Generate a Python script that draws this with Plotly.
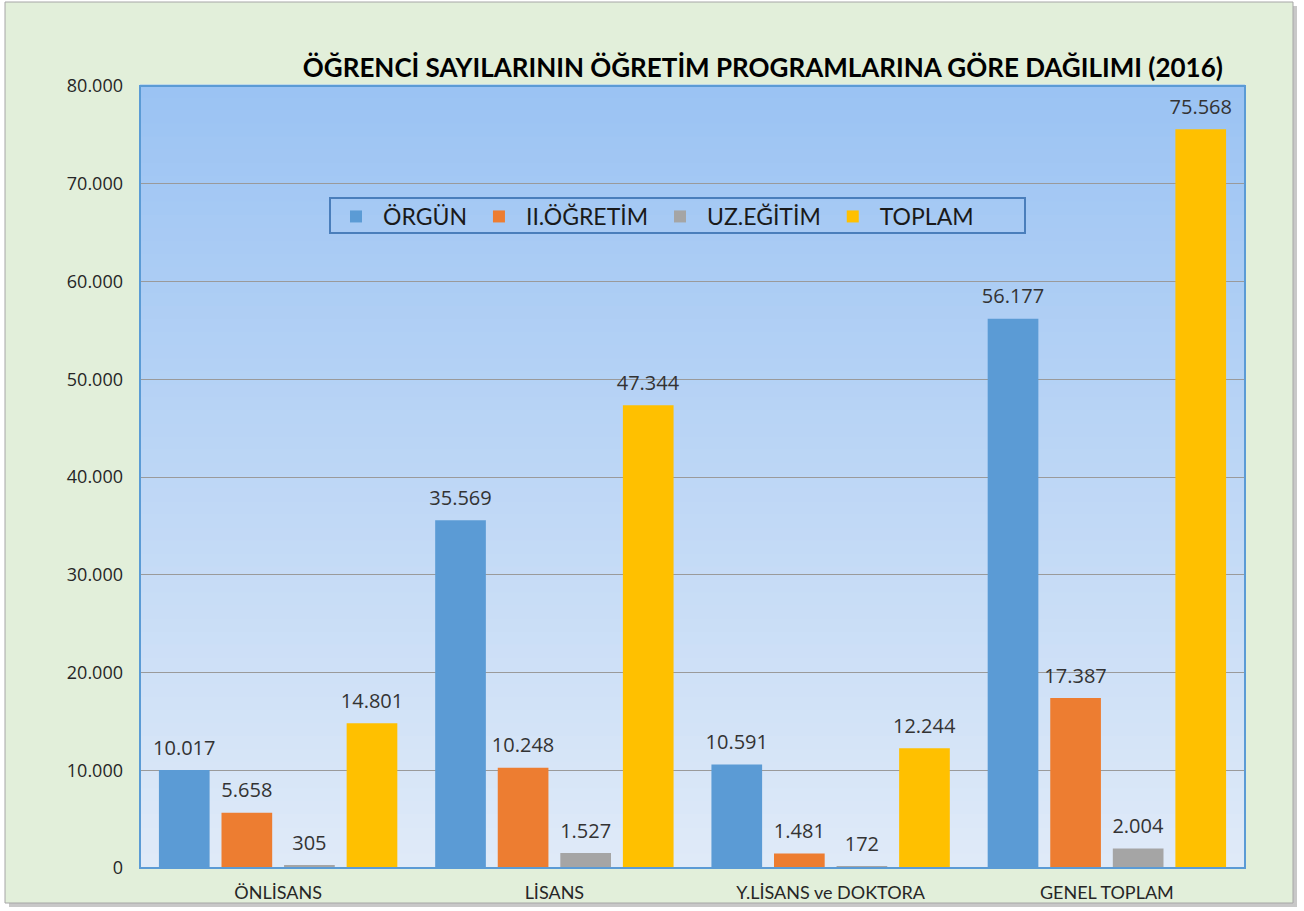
import plotly.graph_objects as go

# --- dati ---
categories = ["ÖNLİSANS", "LİSANS", "Y.LİSANS ve DOKTORA", "GENEL TOPLAM"]
series_names = ["ÖRGÜN", "II.ÖĞRETİM", "UZ.EĞİTİM", "TOPLAM"]
orgun = [10017, 35569, 10591, 56177]
ikinci_ogretim = [5658, 10248, 1481, 17387]
uzaktan = [305, 1527, 172, 2004]
toplam = [14801, 47344, 12244, 75568]
y_ticks = [0, 10000, 20000, 30000, 40000, 50000, 60000, 70000, 80000]

colors = ["#5b9bd5", "#ed7d31", "#a5a5a5", "#ffc000"]
values = [orgun, ikinci_ogretim, uzaktan, toplam]

W, H = 1304, 911
L, R, T, B = 140, 59, 86, 43
pw, ph = W - L - R, H - T - B

fig = go.Figure()
for name, vals, col in zip(series_names, values, colors):
    fig.add_trace(go.Bar(
        x=categories, y=vals, name=name,
        marker=dict(color=col, line=dict(width=0)),
        # etichetta grande + riga vuota piccola per staccarla dalla barra
        texttemplate="<span style='font-size:20px'>%{y:,.0f}</span><br><span> </span>",
        textposition="outside", constraintext="none", cliponaxis=False,
        textfont=dict(family="Open Sans", size=8, color="#333333"),
    ))


def mix(c1, c2, t):
    return "#%02x%02x%02x" % tuple(round(a + (b - a) * t) for a, b in zip(c1, c2))


def px_x(x):
    return (x - L) / pw


def px_y(y):
    return (H - B - y) / ph


# sfondo area grafico a gradiente (strisce)
shapes = []
top_c, bot_c = (155, 195, 243), (223, 234, 248)
n = 60
for i in range(n):
    shapes.append(dict(
        type="rect", xref="x domain", yref="y domain",
        x0=0, x1=1, y0=1 - (i + 1) / n, y1=1 - i / n + 0.002,
        fillcolor=mix(top_c, bot_c, i / (n - 1)), line=dict(width=0),
        layer="below",
    ))

# cornice esterna + ombra
sx, sy = 4 / pw, 4 / ph
shapes.insert(0, dict(type="rect", xref="paper", yref="paper",
                      x0=px_x(5) + sx, x1=px_x(1293) + sx,
                      y0=px_y(903) - sy, y1=px_y(2) - sy,
                      fillcolor="#c8c8c8", line=dict(width=0), layer="below"))
shapes.insert(1, dict(type="rect", xref="paper", yref="paper",
                      x0=px_x(5), x1=px_x(1293), y0=px_y(903), y1=px_y(2),
                      fillcolor="#e2efda", line=dict(color="#a6a6a6", width=1),
                      layer="below"))
# bordo area grafico
shapes.append(dict(type="rect", xref="x domain", yref="y domain",
                   x0=0, x1=1, y0=0, y1=1,
                   line=dict(color="#5b9bd5", width=2), layer="above"))
# riquadro legenda
shapes.append(dict(type="rect", xref="paper", yref="paper",
                   x0=px_x(330), x1=px_x(1025), y0=px_y(233), y1=px_y(198),
                   line=dict(color="#4a7ebb", width=2), layer="above"))

fig.update_layout(
    width=W, height=H,
    margin=dict(l=L, r=R, t=T, b=B),
    paper_bgcolor="white", plot_bgcolor="rgba(0,0,0,0)",
    separators=",.",
    barmode="group", bargap=0.094, bargroupgap=0.19,
    title=dict(
        text="<b>ÖĞRENCİ SAYILARININ ÖĞRETİM PROGRAMLARINA GÖRE DAĞILIMI (2016)</b>",
        x=0.585, xanchor="center", xref="container",
        y=1 - 68 / H, yanchor="middle", yref="container",
        font=dict(family="Lato", size=26, color="#000000"),
    ),
    legend=dict(
        orientation="h", x=px_x(329), xanchor="left",
        y=px_y(195), yanchor="top",
        bgcolor="rgba(0,0,0,0)", borderwidth=0,
        font=dict(family="Lato", size=23, color="#1a1a1a"),
        itemwidth=44, itemclick=False,
    ),
    xaxis=dict(
        showgrid=False, showline=False, ticks="", ticklabelstandoff=12,
        automargin=False,
        tickfont=dict(family="Lato", size=18, color="#262626"),
    ),
    yaxis=dict(
        range=[0, 80000], tickvals=y_ticks, tickformat=",.0f",
        showgrid=True, gridcolor="#9a9a9a", gridwidth=1,
        zeroline=False, showline=False, ticks="", ticklabelstandoff=16,
        automargin=False,
        tickfont=dict(family="Open Sans", size=18, color="#262626"),
    ),
    shapes=shapes,
)

fig.write_html("out.html", config={"displayModeBar": False},
               post_script="document.body.style.margin='0';")
